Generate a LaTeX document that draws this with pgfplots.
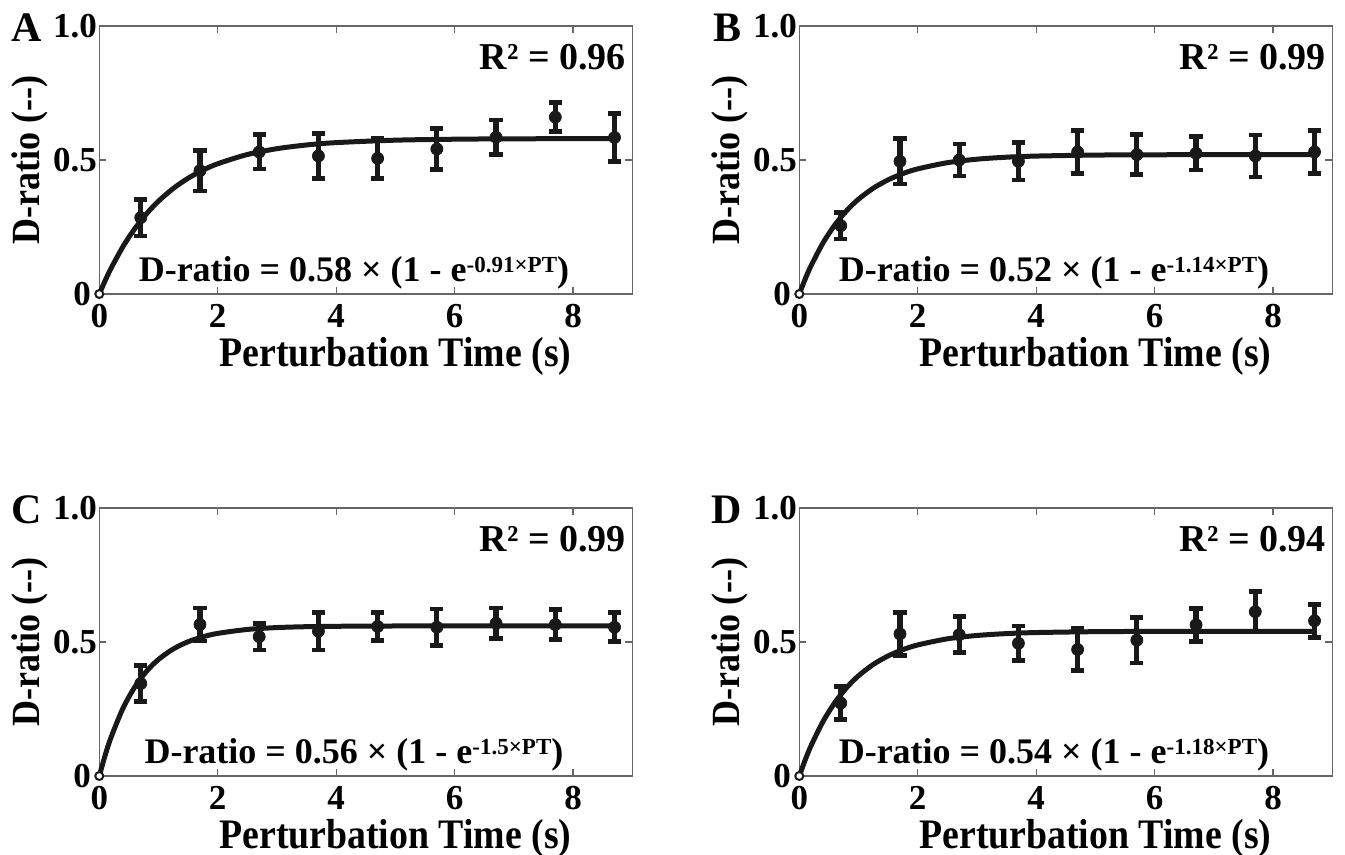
\documentclass[border=0pt]{standalone}
\usepackage{fontspec}
\setmainfont{Liberation Serif}
\usepackage{pgfplots}
\pgfplotsset{compat=1.18}
\usepackage{pgfplotstable}

% measured points: x, mean, error
\pgfplotstableread{
x y e
0.7 0.285 0.068
1.7 0.46 0.075
2.7 0.53 0.064
3.7 0.515 0.084
4.7 0.506 0.074
5.7 0.541 0.076
6.7 0.585 0.064
7.7 0.66 0.054
8.7 0.584 0.09
}\dataA
\pgfplotstableread{
x y e
0.7 0.255 0.05
1.7 0.495 0.085
2.7 0.50 0.06
3.7 0.495 0.07
4.7 0.53 0.08
5.7 0.52 0.075
6.7 0.525 0.062
7.7 0.515 0.078
8.7 0.53 0.08
}\dataB
\pgfplotstableread{
x y e
0.7 0.345 0.068
1.7 0.565 0.062
2.7 0.52 0.05
3.7 0.54 0.07
4.7 0.558 0.053
5.7 0.555 0.068
6.7 0.57 0.057
7.7 0.565 0.056
8.7 0.555 0.054
}\dataC
\pgfplotstableread{
x y e
0.7 0.272 0.061
1.7 0.53 0.08
2.7 0.527 0.067
3.7 0.495 0.065
4.7 0.472 0.078
5.7 0.507 0.085
6.7 0.564 0.062
7.7 0.613 0.075
8.7 0.579 0.062
}\dataD

% fitted curves
\pgfplotstableread{
t d
0 0
0.1 0.0505
0.2 0.0965
0.4 0.1770
0.6 0.2440
0.8 0.2999
1.0 0.3466
1.25 0.3940
1.5 0.4319
1.75 0.4620
2.0 0.4860
2.5 0.5204
3.0 0.5422
3.5 0.5560
4.0 0.5648
5.0 0.5739
6.0 0.5775
7.0 0.5790
8.7 0.5798
}\fitA
\pgfplotstableread{
t d
0 0
0.1 0.0560
0.2 0.1060
0.4 0.1904
0.6 0.2576
0.8 0.3111
1.0 0.3537
1.25 0.3949
1.5 0.4259
1.75 0.4493
2.0 0.4668
2.5 0.4899
3.0 0.5030
3.5 0.5104
4.0 0.5146
5.0 0.5183
6.0 0.5194
7.0 0.5198
8.7 0.5200
}\fitB
\pgfplotstableread{
t d
0 0
0.1 0.0780
0.2 0.1451
0.4 0.2527
0.6 0.3323
0.8 0.3913
1.0 0.4350
1.25 0.4741
1.5 0.5010
1.75 0.5194
2.0 0.5321
2.5 0.5468
3.0 0.5538
3.5 0.5571
4.0 0.5586
5.0 0.5597
6.0 0.5599
8.7 0.5600
}\fitC
\pgfplotstableread{
t d
0 0
0.1 0.0601
0.2 0.1135
0.4 0.2031
0.6 0.2740
0.8 0.3299
1.0 0.3741
1.25 0.4164
1.5 0.4480
1.75 0.4715
2.0 0.4890
2.5 0.5118
3.0 0.5243
3.5 0.5313
4.0 0.5352
5.0 0.5385
6.0 0.5395
7.0 0.5399
8.7 0.5400
}\fitD

\newcommand{\supx}[1]{\raisebox{4.5pt}{\fontsize{11.5}{12}\selectfont #1}}
\newcommand{\narrow}[1]{\scalebox{0.9}[1]{#1}}

\pgfplotsset{
  panel/.style={
    scale only axis, width=266.5pt, height=134pt,
    xmin=0, xmax=9, ymin=0, ymax=1,
    xtick={0,2,4,6,8}, ytick={0,0.5,1}, yticklabels={0\kern3pt,0.5,1.0},
    tick align=inside, major tick length=3.5pt,
    axis line style={draw=black!60, line width=0.6pt},
    every tick/.style={draw=black!60, line width=0.6pt},
    /pgf/number format/assume math mode=true,
    ticklabel style={font=\fontsize{17.5}{18}\selectfont\bfseries},
    xticklabel style={inner sep=1pt, yshift=-4pt},
    yticklabel style={inner sep=1pt},
    clip=false,
  },
  fitline/.style={black!90, line width=2.5pt, smooth, no markers},
  pts/.style={only marks, mark=*, mark size=3pt, black!90,
    error bars/.cd, y dir=both, y explicit,
    error bar style={line width=2.6pt, black!90},
    error mark options={rotate=90, mark size=3.3pt, line width=2.3pt, black!90}},
  origin/.style={only marks, mark=*, mark size=2pt,
    mark options={fill=white, draw=black!90, line width=1pt}},
}

\newcommand{\decor}[4]{%
  \node[anchor=east, inner sep=0pt, font=\fontsize{19}{20}\selectfont\bfseries]
    at (axis cs:8.9,0.885) {R² = #2};
  \node[anchor=base, inner sep=0pt, font=\fontsize{18}{20}\selectfont\bfseries]
    at (axis cs:4.3,0.046) {D-ratio = #3 × (1 - e\supx{-#4×PT})};
  \node[rotate=90, inner sep=0pt, font=\fontsize{20}{22}\selectfont\bfseries]
    at ([xshift=-34.5pt]rel axis cs:0,0.5) {\narrow{D-ratio (-{}-)}};
  \node[anchor=base, inner sep=0pt, font=\fontsize{21}{22}\selectfont\bfseries]
    at ([yshift=-36.5pt]axis cs:5,0) {\narrow{Perturbation Time (s)}};
  \node[anchor=base east, inner sep=0pt, font=\fontsize{21}{22}\selectfont\bfseries]
    at ([xshift=-28.7pt, yshift=-8pt]rel axis cs:0,1) {#1};
}

\begin{document}
\begin{tikzpicture}
\path[use as bounding box] (0,0) rectangle (672.5pt,427.5pt);

\begin{axis}[panel, at={(49.65pt,280.5pt)}]
\addplot[fitline] table[x=t, y=d] {\fitA};
\addplot[pts] table[x=x, y=y, y error=e] {\dataA};
\addplot[origin] coordinates {(0,0)};
\decor{A}{0.96}{0.58}{0.91}
\end{axis}

\begin{axis}[panel, at={(399.65pt,280.5pt)}]
\addplot[fitline] table[x=t, y=d] {\fitB};
\addplot[pts] table[x=x, y=y, y error=e] {\dataB};
\addplot[origin] coordinates {(0,0)};
\decor{B}{0.99}{0.52}{1.14}
\end{axis}

\begin{axis}[panel, at={(49.65pt,39.5pt)}]
\addplot[fitline] table[x=t, y=d] {\fitC};
\addplot[pts] table[x=x, y=y, y error=e] {\dataC};
\addplot[origin] coordinates {(0,0)};
\decor{C}{0.99}{0.56}{1.5}
\end{axis}

\begin{axis}[panel, at={(399.65pt,39.5pt)}]
\addplot[fitline] table[x=t, y=d] {\fitD};
\addplot[pts] table[x=x, y=y, y error=e] {\dataD};
\addplot[origin] coordinates {(0,0)};
\decor{D}{0.94}{0.54}{1.18}
\end{axis}
\end{tikzpicture}
\end{document}
